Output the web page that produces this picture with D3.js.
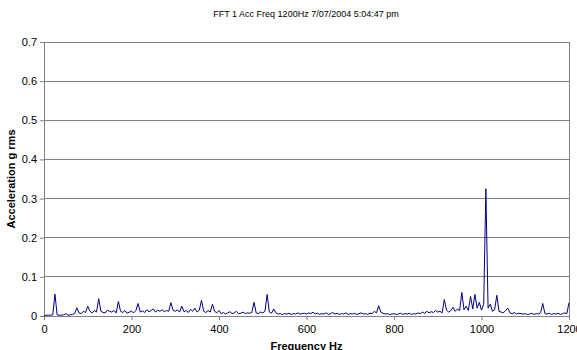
<!DOCTYPE html>
<html>
<head>
<meta charset="utf-8">
<script src="https://cdn.jsdelivr.net/npm/d3@7"></script>
<style>
  body { margin: 0; background: #fff; }
  svg { font-family: "Liberation Sans", Arial, sans-serif; }
</style>
</head>
<body>
<svg id="chart" width="577" height="350"></svg>
<script>
// chart texts
const title = "FFT 1 Acc Freq 1200Hz 7/07/2004 5:04:47 pm";
const xTitle = "Frequency Hz";
const yTitle = "Acceleration g rms";

// axis ticks
const xTicks = [0, 200, 400, 600, 800, 1000, 1200];
const yTicks = [0, 0.1, 0.2, 0.3, 0.4, 0.5, 0.6, 0.7];

// spectrum bins, 5 Hz apart
const binStep = 5;
// amplitudes (g rms), one row per 100 Hz
const amplitude = [
  0.000, 0.002, 0.002, 0.002, 0.003, 0.056, 0.003, 0.002, 0.002, 0.003, 0.006, 0.002, 0.003, 0.004, 0.006, 0.021, 0.008, 0.006, 0.012, 0.009,
  0.025, 0.012, 0.008, 0.014, 0.010, 0.044, 0.012, 0.009, 0.008, 0.015, 0.012, 0.010, 0.014, 0.008, 0.037, 0.012, 0.009, 0.014, 0.007, 0.010,
  0.012, 0.008, 0.014, 0.032, 0.010, 0.013, 0.009, 0.016, 0.011, 0.014, 0.018, 0.010, 0.015, 0.012, 0.016, 0.011, 0.014, 0.012, 0.034, 0.015,
  0.012, 0.016, 0.010, 0.025, 0.011, 0.014, 0.009, 0.017, 0.012, 0.020, 0.010, 0.015, 0.040, 0.012, 0.009, 0.014, 0.010, 0.030, 0.012, 0.008,
  0.014, 0.006, 0.009, 0.005, 0.008, 0.011, 0.006, 0.008, 0.012, 0.006, 0.007, 0.010, 0.006, 0.008, 0.007, 0.009, 0.035, 0.008, 0.006, 0.010,
  0.008, 0.012, 0.055, 0.010, 0.007, 0.018, 0.008, 0.005, 0.006, 0.004, 0.006, 0.005, 0.007, 0.004, 0.006, 0.005, 0.008, 0.005, 0.006, 0.007,
  0.005, 0.008, 0.006, 0.010, 0.005, 0.007, 0.004, 0.006, 0.005, 0.008, 0.004, 0.006, 0.009, 0.005, 0.007, 0.004, 0.006, 0.005, 0.008, 0.004,
  0.006, 0.005, 0.007, 0.004, 0.006, 0.008, 0.005, 0.006, 0.004, 0.007, 0.006, 0.012, 0.008, 0.026, 0.010, 0.007, 0.005, 0.006, 0.004, 0.005,
  0.006, 0.004, 0.005, 0.007, 0.004, 0.006, 0.005, 0.007, 0.004, 0.006, 0.005, 0.008, 0.006, 0.010, 0.007, 0.012, 0.008, 0.011, 0.009, 0.014,
  0.010, 0.012, 0.008, 0.042, 0.015, 0.010, 0.014, 0.022, 0.012, 0.018, 0.014, 0.060, 0.016, 0.025, 0.014, 0.050, 0.018, 0.055, 0.020, 0.035,
  0.015, 0.030, 0.325, 0.020, 0.030, 0.012, 0.016, 0.053, 0.012, 0.010, 0.008, 0.014, 0.020, 0.008, 0.006, 0.009, 0.005, 0.007, 0.006, 0.005,
  0.006, 0.004, 0.005, 0.007, 0.004, 0.006, 0.005, 0.008, 0.032, 0.006, 0.005, 0.007, 0.004, 0.006, 0.005, 0.007, 0.004, 0.006, 0.008, 0.006,
  0.034
];

const svg = d3.select("#chart");
const margin = { top: 42, right: 8, bottom: 34, left: 44 };
const width = 577 - margin.left - margin.right;
const height = 350 - margin.top - margin.bottom;

const g = svg.append("g")
  .attr("transform", "translate(" + margin.left + "," + margin.top + ")");

const x = d3.scaleLinear().domain([0, 1200]).range([0, width]);
const y = d3.scaleLinear().domain([0, 0.7]).range([height, 0]);

// gridlines
g.append("g")
  .selectAll("line")
  .data(yTicks.slice(1))
  .enter()
  .append("line")
  .attr("x1", 0)
  .attr("x2", width)
  .attr("y1", d => y(d))
  .attr("y2", d => y(d))
  .attr("stroke", "#808080")
  .attr("stroke-width", 1)
  .attr("shape-rendering", "crispEdges");

// right border of plot area
g.append("line")
  .attr("x1", width).attr("x2", width)
  .attr("y1", 0).attr("y2", height)
  .attr("stroke", "#808080")
  .attr("shape-rendering", "crispEdges");

// y axis
const yAxis = g.append("g")
  .call(d3.axisLeft(y).tickValues(yTicks).tickFormat(d => d === 0 ? "0" : d3.format(".1f")(d)).tickSize(4).tickPadding(3));
yAxis.select(".domain").attr("stroke", "#808080");
yAxis.selectAll(".tick line").attr("stroke", "#808080");
yAxis.selectAll("text").attr("font-size", 11).attr("fill", "#000");

// x axis
const xAxis = g.append("g")
  .attr("transform", "translate(0," + height + ")")
  .call(d3.axisBottom(x).tickValues(xTicks).tickFormat(d3.format("d")).tickSize(4).tickPadding(5));
xAxis.select(".domain").attr("stroke", "#808080");
xAxis.selectAll(".tick line").attr("stroke", "#808080");
xAxis.selectAll("text").attr("font-size", 11).attr("fill", "#000");

// spectrum line
const line = d3.line()
  .x((d, i) => x(i * binStep))
  .y(d => y(d));

g.append("path")
  .datum(amplitude)
  .attr("d", line)
  .attr("fill", "none")
  .attr("stroke", "#000080")
  .attr("stroke-width", 1);

// titles
svg.append("text")
  .attr("x", 306)
  .attr("y", 17)
  .attr("text-anchor", "middle")
  .attr("font-size", 9)
  .attr("fill", "#000")
  .text(title);

svg.append("text")
  .attr("x", margin.left + width / 2)
  .attr("y", 350)
  .attr("text-anchor", "middle")
  .attr("font-size", 11)
  .attr("font-weight", "bold")
  .text(xTitle);

svg.append("text")
  .attr("transform", "translate(15," + (margin.top + height / 2) + ") rotate(-90)")
  .attr("text-anchor", "middle")
  .attr("font-size", 11)
  .attr("font-weight", "bold")
  .text(yTitle);
</script>
</body>
</html>
